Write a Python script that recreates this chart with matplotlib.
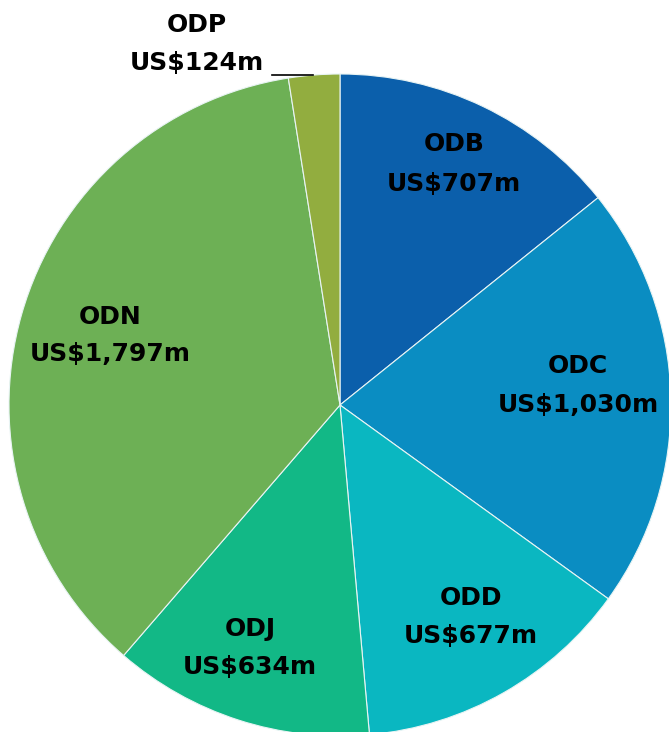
import matplotlib
matplotlib.use("Agg")
import matplotlib.pyplot as plt

categories = ["ODB", "ODC", "ODD", "ODJ", "ODN", "ODP"]
values = [707, 1030, 677, 634, 1797, 124]
value_labels = ["US$707m", "US$1,030m", "US$677m", "US$634m", "US$1,797m", "US$124m"]
colors = ["#0B5FAB", "#0A8DC2", "#0AB7C1", "#12B886", "#6DB055", "#92AD3F"]

W, H = 669, 732
cx, cy, R = 340, 405, 331

fig = plt.figure(figsize=(W / 100, H / 100), dpi=100)
ax = fig.add_axes([0, 0, 1, 1])
ax.pie(values, colors=colors, startangle=90, counterclock=False,
       radius=1.0, center=(0, 0),
       wedgeprops=dict(edgecolor="#E8F4F4", linewidth=0.8))
ax.set_xlim((0 - cx) / R, (W - cx) / R)
ax.set_ylim((cy - H) / R, (cy - 0) / R)
ax.set_aspect("equal")
ax.axis("off")

def px(x, y):
    return (x - cx) / R, (cy - y) / R

# label pixel positions: (x center, name line y, value line y)
label_pos = [(454, 144, 184), (578, 366, 405), (471, 598, 636),
             (250, 629, 667), (110, 317, 354), (197, 25, 63)]
font = dict(family=["DejaVu Sans"], fontweight="bold", fontsize=18, color="black")
for name, vl, (x, y1, y2) in zip(categories, value_labels, label_pos):
    tx, ty = px(x, y1)
    ax.text(tx, ty, name, ha="center", va="center", **font)
    tx, ty = px(x, y2)
    ax.text(tx, ty, vl, ha="center", va="center", **font)

# leader line for ODP
x0, y0 = px(272, 75)
x1, y1 = px(313, 75)
ax.plot([x0, x1], [y0, y1], color="black", lw=1.2)

fig.savefig("out.png", dpi=100)
